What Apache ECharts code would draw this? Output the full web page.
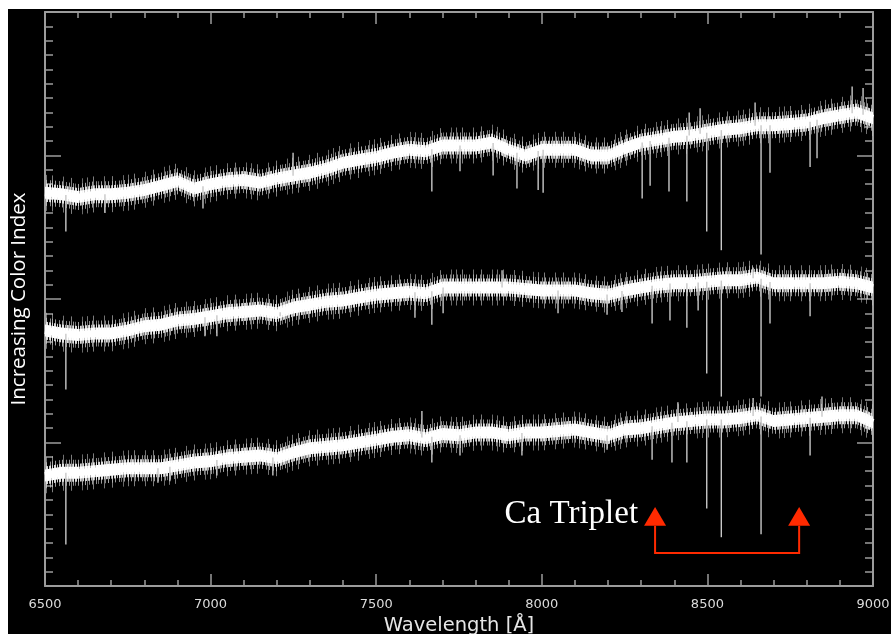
<!DOCTYPE html>
<html><head><meta charset="utf-8">
<script src="https://cdn.jsdelivr.net/npm/echarts@6/dist/echarts.min.js"></script>
<style>
html,body{margin:0;padding:0;background:#fff;width:891px;height:634px;overflow:hidden;}
#c{position:absolute;left:8px;top:9px;width:883px;height:625px;background:#000;}
</style></head>
<body><div id="c"></div>
<script>
// Wavelength grid (Å) for the continuum samples
const wavelengths = [6500,6550,6600,6650,6700,6750,6800,6850,6900,6950,7000,7050,7100,7150,7200,7250,7300,7350,7400,7450,7500,7550,7600,7650,7700,7750,7800,7850,7900,7950,8000,8050,8100,8150,8200,8250,8300,8350,8400,8450,8500,8550,8600,8650,8700,8750,8800,8850,8900,8950,9000];
// Continuum (offset flux, axis units) for the three spectra, top to bottom
const spectrumTop = [2.74,2.73,2.71,2.73,2.73,2.74,2.76,2.79,2.82,2.77,2.80,2.82,2.83,2.81,2.84,2.86,2.88,2.91,2.95,2.97,2.99,3.02,3.04,3.03,3.07,3.07,3.07,3.09,3.04,3.00,3.04,3.04,3.04,3.00,3.00,3.05,3.09,3.11,3.13,3.14,3.16,3.18,3.19,3.21,3.21,3.22,3.23,3.26,3.28,3.30,3.26];
const spectrumMid = [1.78,1.76,1.75,1.76,1.76,1.78,1.81,1.82,1.85,1.86,1.88,1.90,1.91,1.92,1.90,1.94,1.96,1.98,1.99,2.01,2.03,2.04,2.05,2.04,2.08,2.08,2.08,2.08,2.08,2.07,2.06,2.06,2.06,2.04,2.03,2.06,2.08,2.10,2.11,2.11,2.12,2.13,2.13,2.15,2.11,2.11,2.11,2.11,2.12,2.11,2.08];
const spectrumLow = [0.77,0.79,0.79,0.80,0.81,0.82,0.82,0.82,0.84,0.86,0.87,0.89,0.90,0.91,0.89,0.93,0.96,0.97,0.98,1.00,1.02,1.04,1.05,1.03,1.06,1.05,1.07,1.07,1.05,1.07,1.07,1.08,1.09,1.07,1.05,1.09,1.10,1.12,1.14,1.15,1.16,1.16,1.17,1.19,1.15,1.16,1.17,1.18,1.19,1.19,1.14];
// Individual line features [wavelength, tip value]
const featuresTop = [[6563,2.47],[6681,2.60],[6977,2.63],[7249,3.02],[7668,2.75],[7753,2.89],[7853,2.86],[7925,2.77],[7989,2.76],[8004,2.74],[8303,2.70],[8327,2.79],[8384,2.75],[8438,2.68],[8445,3.30],[8478,3.33],[8498,2.47],[8542,2.34],[8662,2.31],[8644,3.37],[8689,2.88],[8810,2.92],[8831,2.98],[8937,3.48],[8970,3.47]];
const featuresMid = [[6563,1.37],[6983,1.74],[7019,1.74],[7210,1.88],[7617,1.87],[7668,1.82],[7702,1.90],[7880,2.20],[8049,1.90],[8197,1.89],[8242,1.91],[8333,1.83],[8387,1.85],[8438,1.80],[8472,1.92],[8498,1.48],[8542,1.32],[8662,1.32],[8638,2.22],[8689,1.83],[8810,1.88]];
const featuresLow = [[6563,0.29],[6841,0.72],[6877,0.73],[7019,0.77],[7188,0.77],[7638,1.22],[7668,0.86],[7753,0.91],[7940,0.91],[8197,0.95],[8333,0.88],[8393,0.86],[8411,1.28],[8438,0.86],[8498,0.54],[8542,0.34],[8662,0.36],[8638,1.31],[8810,0.91],[8846,1.32]];
const xTicks = {min:6500, max:9000, step:500};
const annotationLabel = 'Ca Triplet';

function interp(arr, w){
  for(let i=0;i<wavelengths.length-1;i++){
    if(w>=wavelengths[i] && w<=wavelengths[i+1]){
      const t=(w-wavelengths[i])/(wavelengths[i+1]-wavelengths[i]);
      return arr[i]+(arr[i+1]-arr[i])*t;
    }
  }
  return arr[arr.length-1];
}
function pairs(arr){ return wavelengths.map((w,i)=>[w,arr[i]]); }
function featData(cont, feats){ return feats.map(f=>[f[0], interp(cont,f[0]), f[1]]); }

// Stripe textures (pure styling): vertical hairlines in a small tile
function stripeTile(width, cols, color){
  const cv = document.createElement('canvas');
  cv.width = width; cv.height = 2;
  const ctx = cv.getContext('2d');
  cols.forEach(c=>{ ctx.fillStyle = color; ctx.globalAlpha = c[1]; ctx.fillRect(c[0],0,1,2); });
  return {image: cv, repeat: 'repeat'};
}
const texInner = stripeTile(11, [[0,1],[1,1],[2,0.85],[3,1],[4,1],[5,0.7],[6,1],[7,1],[8,0.9],[9,1],[10,0.8]], '#ffffff');
const texMid = stripeTile(13, [[0,0.9],[2,0.85],[3,0.9],[5,0.75],[7,0.9],[8,0.7],[10,0.85],[12,0.75]], '#f2f2f2');
const texOuter = stripeTile(23, [[1,0.75],[5,0.65],[8,0.8],[12,0.65],[15,0.75],[19,0.7],[21,0.55]], '#cccccc');
const texFar = stripeTile(41, [[3,0.65],[14,0.6],[22,0.65],[33,0.55],[38,0.6]], '#c0c0c0');

function bandSeries(arr, delta, tex, z){
  return {
    type:'custom', silent:true, z:z, data:[[0]],
    renderItem: function(params, api){
      const top = [], bot = [];
      for(let i=0;i<wavelengths.length;i++){
        const p = api.coord([wavelengths[i], arr[i]]);
        top.push([p[0], p[1]-delta]);
        bot.push([p[0], p[1]+delta]);
      }
      return {type:'polygon', shape:{points: top.concat(bot.reverse())}, style:{fill: tex}};
    }
  };
}

const spikeRender = function(params, api){
  const p1 = api.coord([api.value(0), api.value(1)]);
  const p2 = api.coord([api.value(0), api.value(2)]);
  return {type:'line', shape:{x1:p1[0],y1:p1[1],x2:p2[0],y2:p2[1]}, style:{stroke:'#c8c8c8', lineWidth:1.4}};
};

const axisGrey = '#9c9c9c';
const series = [];
[spectrumTop, spectrumMid, spectrumLow].forEach((s)=>{
  series.push(bandSeries(s, 18, texFar, 1));
  series.push(bandSeries(s, 13, texOuter, 2));
  series.push(bandSeries(s, 9, texMid, 3));
  series.push(bandSeries(s, 6, texInner, 4));
  series.push({type:'line', data:pairs(s), showSymbol:false, silent:true, z:5,
    lineStyle:{color:'#ffffff', width:7}});
});
[[spectrumTop,featuresTop],[spectrumMid,featuresMid],[spectrumLow,featuresLow]].forEach(([c,f])=>{
  series.push({type:'custom', renderItem:spikeRender, data:featData(c,f), z:6, silent:true});
});

const chart = echarts.init(document.getElementById('c'), null, {renderer:'canvas'});
const lbl = v => String(v);
const option = {
  backgroundColor:'#000',
  animation:false,
  grid:{left:37, right:18, top:3, bottom:48, containLabel:false, outerBoundsMode:'none'},
  xAxis:[{
    type:'value', min:xTicks.min, max:xTicks.max, interval:xTicks.step, position:'bottom',
    axisLine:{show:true, onZero:false, lineStyle:{color:axisGrey, width:2}},
    axisTick:{show:true, inside:true, length:12, lineStyle:{color:axisGrey, width:1.5}},
    minorTick:{show:true, splitNumber:5, length:6, lineStyle:{color:axisGrey, width:1.5}},
    splitLine:{show:false},
    axisLabel:{color:'#dcdcdc', fontSize:13, fontFamily:'DejaVu Sans', margin:12, formatter:lbl},
    name:'Wavelength [Å]', nameLocation:'middle', nameGap:27,
    nameTextStyle:{color:'#e6e6e6', fontSize:19.5, fontFamily:'DejaVu Sans'}
  },{
    type:'value', min:xTicks.min, max:xTicks.max, interval:xTicks.step, position:'top',
    axisLine:{show:true, onZero:false, lineStyle:{color:axisGrey, width:2}},
    axisTick:{show:true, inside:true, length:12, lineStyle:{color:axisGrey, width:1.5}},
    minorTick:{show:true, splitNumber:5, length:6, lineStyle:{color:axisGrey, width:1.5}},
    splitLine:{show:false}, axisLabel:{show:false}
  }],
  yAxis:[{
    type:'value', min:0, max:4, interval:1, position:'left',
    axisLine:{show:true, onZero:false, lineStyle:{color:axisGrey, width:2}},
    axisTick:{show:true, inside:true, length:16, lineStyle:{color:axisGrey, width:1.5}},
    minorTick:{show:true, splitNumber:10, length:8, lineStyle:{color:axisGrey, width:1.5}},
    splitLine:{show:false}, axisLabel:{show:false},
    name:'Increasing Color Index', nameLocation:'middle', nameGap:15, nameRotate:90,
    nameTextStyle:{color:'#ffffff', fontSize:20.5, fontFamily:'Open Sans'}
  },{
    type:'value', min:0, max:4, interval:1, position:'right',
    axisLine:{show:true, onZero:false, lineStyle:{color:axisGrey, width:2}},
    axisTick:{show:true, inside:true, length:16, lineStyle:{color:axisGrey, width:1.5}},
    minorTick:{show:true, splitNumber:10, length:8, lineStyle:{color:axisGrey, width:1.5}},
    splitLine:{show:false}, axisLabel:{show:false}
  }],
  series: series
};
chart.setOption(option);

// Annotation: bracket with two arrows and label, anchored in data units
const arrowW = [8342, 8777];
const bracketY = 0.23, arrowBaseY = 0.42, arrowTipY = 0.55;
const cv = (w,v) => chart.convertToPixel({xAxisIndex:0, yAxisIndex:0}, [w, v]);
const pA0 = cv(arrowW[0], bracketY), pA1 = cv(arrowW[1], bracketY);
const pB0 = cv(arrowW[0], arrowBaseY), pB1 = cv(arrowW[1], arrowBaseY);
const pT0 = cv(arrowW[0], arrowTipY), pT1 = cv(arrowW[1], arrowTipY);
const red = '#ff2a00';
chart.setOption({graphic:[
  {type:'polyline', shape:{points:[[pB0[0],pB0[1]],[pA0[0],pA0[1]],[pA1[0],pA1[1]],[pB1[0],pB1[1]]]}, style:{stroke:red, lineWidth:2, fill:null}, z:10},
  {type:'polygon', shape:{points:[[pT0[0],pT0[1]],[pB0[0]-11,pB0[1]],[pB0[0]+11,pB0[1]]]}, style:{fill:red}, z:10},
  {type:'polygon', shape:{points:[[pT1[0],pT1[1]],[pB1[0]-11,pB1[1]],[pB1[0]+11,pB1[1]]]}, style:{fill:red}, z:10},
  {type:'text', x:pT0[0]-17, y:pB0[1]+5, style:{text:annotationLabel, fill:'#ffffff', font:'33px "Liberation Serif"', textAlign:'right', textVerticalAlign:'bottom'}, z:10}
]});
</script></body></html>
